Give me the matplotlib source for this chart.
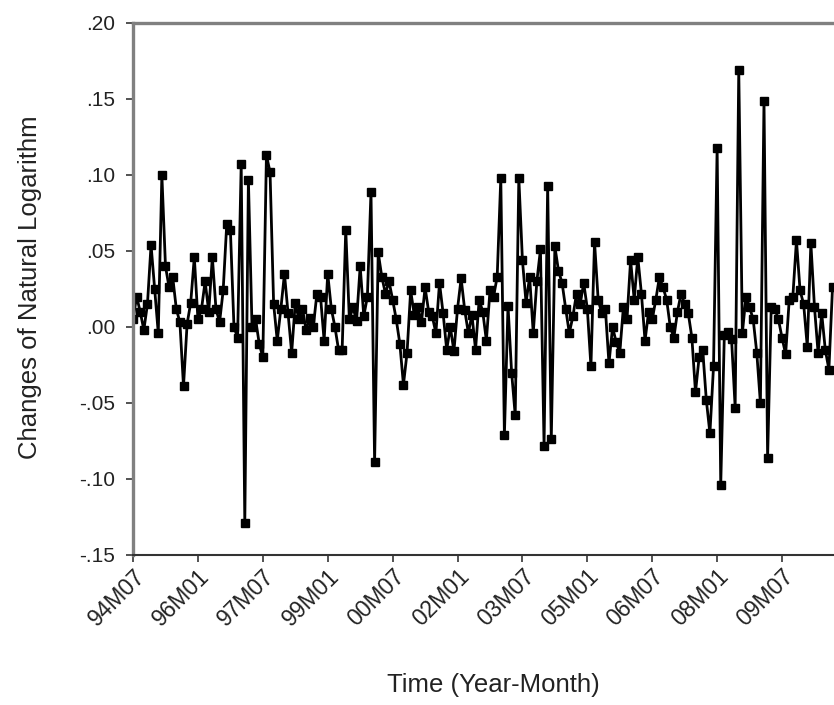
import matplotlib
matplotlib.use("Agg")
import matplotlib.pyplot as plt
import pandas as pd

plt.rcParams['font.family'] = ['Liberation Sans', 'DejaVu Sans']

start_period = "1994-07"
values = [
    0.005, 0.020, 0.010, -0.002, 0.015, 0.054, 0.025, -0.004, 0.100, 0.040,
    0.026, 0.033, 0.012, 0.003, -0.039, 0.002, 0.016, 0.046, 0.005, 0.012,
    0.030, 0.010, 0.046, 0.012, 0.003, 0.024, 0.068, 0.064, 0.000, -0.007,
    0.107, -0.129, 0.097, 0.000, 0.005, -0.011, -0.020, 0.113, 0.102, 0.015,
    -0.009, 0.012, 0.035, 0.009, -0.017, 0.016, 0.005, 0.012, -0.002, 0.006,
    0.000, 0.022, 0.020, -0.009, 0.035, 0.012, 0.000, -0.015, -0.015, 0.064,
    0.005, 0.013, 0.004, 0.040, 0.007, 0.020, 0.089, -0.089, 0.049, 0.033,
    0.022, 0.030, 0.018, 0.005, -0.011, -0.038, -0.017, 0.024, 0.008, 0.013,
    0.003, 0.026, 0.010, 0.007, -0.004, 0.029, 0.009, -0.015, 0.000, -0.016,
    0.012, 0.032, 0.011, -0.004, 0.008, -0.015, 0.018, 0.010, -0.009, 0.024,
    0.020, 0.033, 0.098, -0.071, 0.014, -0.030, -0.058, 0.098, 0.044, 0.016,
    0.033, -0.004, 0.030, 0.051, -0.078, 0.093, -0.074, 0.053, 0.037, 0.029,
    0.012, -0.004, 0.007, 0.022, 0.015, 0.029, 0.012, -0.026, 0.056, 0.018,
    0.009, 0.012, -0.024, 0.000, -0.010, -0.017, 0.013, 0.005, 0.044, 0.018,
    0.046, 0.022, -0.009, 0.010, 0.005, 0.018, 0.033, 0.026, 0.018, 0.000,
    -0.007, 0.010, 0.022, 0.015, 0.009, -0.007, -0.043, -0.020, -0.015, -0.048,
    -0.070, -0.026, 0.118, -0.104, -0.005, -0.003, -0.008, -0.053, 0.169, -0.004,
    0.020, 0.013, 0.005, -0.017, -0.050, 0.149, -0.086, 0.013, 0.012, 0.005,
    -0.007, -0.018, 0.018, 0.020, 0.057, 0.024, 0.015, -0.013, 0.055, 0.013,
    -0.017, 0.009, -0.015, -0.028, 0.026,
]
tick_labels = ["94M07", "96M01", "97M07", "99M01", "00M07", "02M01",
               "03M07", "05M01", "06M07", "08M01", "09M07"]
ytick_values = [-0.15, -0.10, -0.05, 0.00, 0.05, 0.10, 0.15, 0.20]
ytick_labels = ["-.15", "-.10", "-.05", ".00", ".05", ".10", ".15", ".20"]

periods = pd.period_range(start=start_period, periods=len(values), freq="M")
x = list(range(len(values)))

def label_to_index(lbl):
    yy = int(lbl[:2]); mm = int(lbl[3:])
    year = 1900 + yy if yy > 50 else 2000 + yy
    p = pd.Period(year=year, month=mm, freq="M")
    return (p - periods[0]).n

tick_pos = [label_to_index(l) for l in tick_labels]

fig = plt.figure(figsize=(8.34, 7.05), dpi=100)
ax = fig.add_axes([0.1595, 0.2128, 0.856, 0.7546])
ax.plot(x, values, color='black', lw=2.0, marker='s', markersize=5.6,
        markerfacecolor='black', markeredgecolor='black')
ax.set_xlim(0, 198)
ax.set_ylim(-0.15, 0.20)

ax.set_yticks(ytick_values)
ax.set_yticklabels(ytick_labels, fontsize=15)
ax.set_xticks(tick_pos)
ax.set_xticklabels(tick_labels, fontsize=16.5, rotation=45, ha='right',
                   va='top', rotation_mode='anchor')
ax.tick_params(axis='both', direction='out', length=5, width=1.3, colors='#444444')
ax.tick_params(axis='y', pad=8)
ax.tick_params(axis='x', pad=2)
for lab in ax.get_xticklabels() + ax.get_yticklabels():
    lab.set_color('#222222')

for s in ['left', 'top']:
    ax.spines[s].set_color('#808080')
    ax.spines[s].set_linewidth(2.4)
ax.spines['bottom'].set_color('#333333')
ax.spines['bottom'].set_linewidth(1.5)
ax.spines['right'].set_visible(False)

ax.set_ylabel("Changes of Natural Logarithm", fontsize=18.5, color='#222222')
ax.set_xlabel("Time (Year-Month)", fontsize=18.5, color='#222222')
ax.xaxis.set_label_coords((493 - 133) / 714, -(673 - 555) / 532)
ax.yaxis.set_label_coords(-(133 - 42) / 714, (555 - 287) / 532)

fig.savefig("out.png", dpi=100)
